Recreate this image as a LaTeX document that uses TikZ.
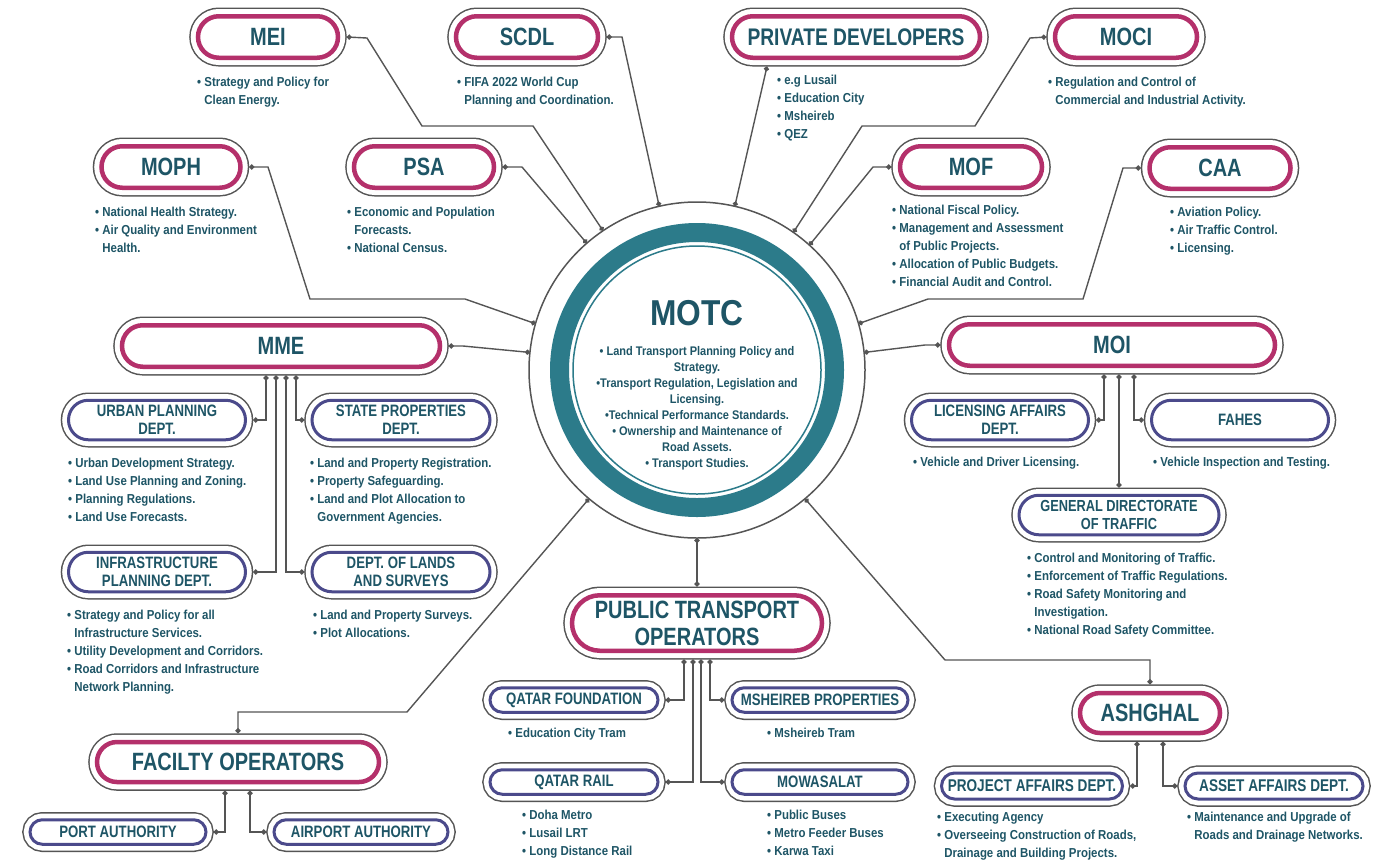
\documentclass[tikz,border=0pt]{standalone}
\usepackage{fontspec}
\setmainfont{Liberation Sans}
\newfontfamily\headfont{Liberation Sans}[FakeStretch=0.8]
\newfontfamily\notefont{Liberation Sans}[FakeStretch=0.88]
\usepackage{tikz}
\usetikzlibrary{arrows.meta, shapes.misc}

\definecolor{ink}{HTML}{1E5566}
\definecolor{ring}{HTML}{2C7B8A}
\definecolor{mag}{HTML}{B4306B}
\definecolor{pur}{HTML}{4B4A8B}
\definecolor{rim}{HTML}{555555}

\newcommand{\itm}{\textbullet\ }
\newcommand{\nxt}{\phantom{\textbullet\ }}

\begin{document}
\begin{tikzpicture}[x=1pt, y=-1pt,
    box/.style={rounded rectangle, fill=white, text=ink, align=center, inner ysep=0pt},
    org/.style={box, draw=mag, line width=4.5pt, outer sep=8.75pt, inner xsep=-14pt,
        minimum height=41.5pt, font=\headfont\bfseries\fontsize{25}{27}\selectfont,
        preaction={draw=rim, line width=17.5pt}, preaction={draw=white, line width=14.5pt}},
    dept/.style={box, draw=pur, line width=3pt, outer sep=7.75pt, inner xsep=-14pt,
        minimum height=24.5pt, font=\headfont\bfseries\fontsize{16.5}{18}\selectfont,
        preaction={draw=rim, line width=15.5pt}, preaction={draw=white, line width=12.5pt}},
    note/.style={anchor=north west, align=left, inner sep=0pt, text=ink,
        font=\notefont\bfseries\fontsize{13}{18}\selectfont},
    wire/.style={draw=rim, line width=1.4pt, {Circle[length=5pt]}-{Circle[length=5pt]}}]

    \fill[white] (0,0) rectangle (1380,860);
    \useasboundingbox (0,0) rectangle (1380,860);

    % MOTC hub
    \node[circle, draw=rim, line width=1.5pt, minimum size=336pt, inner sep=0pt, outer sep=0pt] (motc) at (697,370) {};
    \draw[ring, line width=19pt] (motc.center) circle (137.5pt);
    \draw[ring, line width=1.5pt] (motc.center) circle (124pt);
    \node[text=ink, font=\notefont\bfseries\fontsize{36}{36}\selectfont] (motcT) at (697,313) {MOTC};
    \node[text=ink, align=center, font=\notefont\bfseries\fontsize{12.5}{16}\selectfont] (motcL) at (697,408)
        {\textbullet\ Land Transport Planning Policy and\\Strategy.\\\textbullet Transport Regulation, Legislation and\\Licensing.\\
         \textbullet Technical Performance Standards.\\\textbullet\ Ownership and Maintenance of\\Road Assets.\\\textbullet\ Transport Studies.};

    % Top ring of bodies
    \node[org, minimum width=112pt] (mei) at (268,37) {MEI};
    \node[org, minimum width=114pt] (scdl) at (527,37) {SCDL};
    \node[org, minimum width=220pt, font=\headfont\bfseries\fontsize{24}{27}\selectfont] (priv) at (856,37) {PRIVATE DEVELOPERS};
    \node[org, minimum width=114pt] (moci) at (1126,37) {MOCI};
    \node[org, minimum width=111pt] (moph) at (171,167) {MOPH};
    \node[org, minimum width=112pt] (psa) at (424,167) {PSA};
    \node[org, minimum width=114pt] (mof) at (971,167) {MOF};
    \node[org, minimum width=113pt] (caa) at (1220,168) {CAA};

    \node[note] (meiT) at (197,77) {\itm Strategy and Policy for\\\nxt Clean Energy.};
    \node[note] (scdlT) at (457,77) {\itm FIFA 2022 World Cup\\\nxt Planning and Coordination.};
    \node[note] (privT) at (777,75) {\itm e.g Lusail\\\itm Education City\\\itm Msheireb\\\itm QEZ};
    \node[note] (mociT) at (1048,77) {\itm Regulation and Control of\\\nxt Commercial and Industrial Activity.};
    \node[note] (mophT) at (95,207) {\itm National Health Strategy.\\\itm Air Quality and Environment\\\nxt Health.};
    \node[note] (psaT) at (347,207) {\itm Economic and Population\\\nxt Forecasts.\\\itm National Census.};
    \node[note] (mofT) at (892,205) {\itm National Fiscal Policy.\\\itm Management and Assessment\\\nxt of Public Projects.\\\itm Allocation of Public Budgets.\\\itm Financial Audit and Control.};
    \node[note] (caaT) at (1170,207) {\itm Aviation Policy.\\\itm Air Traffic Control.\\\itm Licensing.};

    % MME and its departments
    \node[org, minimum width=290pt] (mme) at (281,346) {MME};
    \node[dept, minimum width=149pt, minimum height=39.5pt] (urban) at (157,420) {URBAN PLANNING\\DEPT.};
    \node[dept, minimum width=150pt, minimum height=39.5pt] (state) at (401,420) {STATE PROPERTIES\\DEPT.};
    \node[dept, minimum width=149pt, minimum height=39.5pt] (infra) at (157,572) {INFRASTRUCTURE\\PLANNING DEPT.};
    \node[dept, minimum width=150pt, minimum height=39.5pt] (lands) at (401,572) {DEPT. OF LANDS\\AND SURVEYS};
    \node[note] (urbanT) at (68,458) {\itm Urban Development Strategy.\\\itm Land Use Planning and Zoning.\\\itm Planning Regulations.\\\itm Land Use Forecasts.};
    \node[note] (stateT) at (310,458) {\itm Land and Property Registration.\\\itm Property Safeguarding.\\\itm Land and Plot Allocation to\\\nxt Government Agencies.};
    \node[note] (infraT) at (67,610) {\itm Strategy and Policy for all\\\nxt Infrastructure Services.\\\itm Utility Development and Corridors.\\\itm Road Corridors and Infrastructure\\\nxt Network Planning.};
    \node[note] (landsT) at (313,610) {\itm Land and Property Surveys.\\\itm Plot Allocations.};

    % MOI and its departments
    \node[org, minimum width=298pt] (moi) at (1112,345) {MOI};
    \node[dept, minimum width=149pt, minimum height=39.5pt] (lic) at (1000,420) {LICENSING AFFAIRS\\DEPT.};
    \node[dept, minimum width=149pt, minimum height=39.5pt] (fahes) at (1240,420) {FAHES};
    \node[dept, minimum width=172pt, minimum height=39.5pt, font=\headfont\bfseries\fontsize{16}{18}\selectfont] (gen) at (1119,515) {GENERAL DIRECTORATE\\OF TRAFFIC};
    \node[note] (licT) at (913,457) {\itm Vehicle and Driver Licensing.};
    \node[note] (fahesT) at (1153,457) {\itm Vehicle Inspection and Testing.};
    \node[note] (genT) at (1027,553) {\itm Control and Monitoring of Traffic.\\\itm Enforcement of Traffic Regulations.\\\itm Road Safety Monitoring and\\\nxt Investigation.\\\itm National Road Safety Committee.};

    % Public transport operators
    \node[org, minimum width=222pt, minimum height=55.5pt] (pto) at (697,623) {PUBLIC TRANSPORT\\OPERATORS};
    \node[dept, minimum width=140pt] (qf) at (574,700) {QATAR FOUNDATION};
    \node[dept, minimum width=148pt] (msh) at (820,700) {MSHEIREB PROPERTIES};
    \node[dept, minimum width=140pt] (qr) at (574,782) {QATAR RAIL};
    \node[dept, minimum width=148pt] (mow) at (820,782) {MOWASALAT};
    \node[note] (qfT) at (508,728) {\itm Education City Tram};
    \node[note] (mshT) at (767,728) {\itm Msheireb Tram};
    \node[note] (qrT) at (522,810) {\itm Doha Metro\\\itm Lusail LRT\\\itm Long Distance Rail};
    \node[note] (mowT) at (767,810) {\itm Public Buses\\\itm Metro Feeder Buses\\\itm Karwa Taxi};

    % Facility operators
    \node[org, minimum width=254pt, minimum height=40pt] (fac) at (238,762) {FACILTY OPERATORS};
    \node[dept, minimum width=148pt] (port) at (118,832) {PORT AUTHORITY};
    \node[dept, minimum width=146pt] (air) at (361,832) {AIRPORT AUTHORITY};

    % Ashghal
    \node[org, minimum width=112pt, minimum height=40pt] (ash) at (1150,713) {ASHGHAL};
    \node[dept, minimum width=153pt, minimum height=26pt, font=\headfont\bfseries\fontsize{17}{18}\selectfont] (proj) at (1032,786) {PROJECT AFFAIRS DEPT.};
    \node[dept, minimum width=150pt, minimum height=26pt, font=\headfont\bfseries\fontsize{17}{18}\selectfont] (asset) at (1274,786) {ASSET AFFAIRS DEPT.};
    \node[note] (projT) at (937,812) {\itm Executing Agency\\\itm Overseeing Construction of Roads,\\\nxt Drainage and Building Projects.};
    \node[note] (assetT) at (1187,812) {\itm Maintenance and Upgrade of\\\nxt Roads and Drainage Networks.};

    % Links to the hub
    \draw[wire] (mei.east) -- (367,38) -- (422,126) -- (533,126) -- (motc.124);
    \draw[wire] (scdl.east) -- (622,37) -- (motc.103);
    \draw[wire] ([xshift=-89pt]priv.south) -- (motc.77);
    \draw[wire] (moci.west) -- (1030,38) -- (975,126) -- (862,126) -- (motc.55);
    \draw[wire] (psa.east) -- (522,167) -- (motc.131);
    \draw[wire] (mof.west) -- (873,167) -- (motc.48);
    \draw[wire] (moph.east) -- (268,167) -- (310,299) -- (465,299) -- (motc.164);
    \draw[wire] (mme.east) -- (463,346) -- (motc.174);
    \draw[wire] (caa.west) -- (1123,168) -- (1083,299) -- (928,299) -- (motc.16);
    \draw[wire] (moi.west) -- (925,345) -- (motc.6);
    \draw[wire] (motc.south) -- (pto.north);
    \draw[wire] (motc.230) -- (407,712) -| (fac.north);
    \draw[wire] (motc.310) -- (945,660) -| (ash.north);

    % Department links
    \draw[wire] ([xshift=-15pt]mme.south) |- (urban.east);
    \draw[wire] ([xshift=-5pt]mme.south) |- (infra.east);
    \draw[wire] ([xshift=5pt]mme.south) |- (lands.west);
    \draw[wire] ([xshift=15pt]mme.south) |- (state.west);
    \draw[wire] ([xshift=-8pt]moi.south) |- (lic.east);
    \draw[wire] ([xshift=7pt]moi.south) -- (gen.north);
    \draw[wire] ([xshift=22pt]moi.south) |- (fahes.west);
    \draw[wire] ([xshift=-13pt]pto.south) |- (qf.east);
    \draw[wire] ([xshift=-4pt]pto.south) |- (qr.east);
    \draw[wire] ([xshift=4pt]pto.south) |- (mow.west);
    \draw[wire] ([xshift=13pt]pto.south) |- (msh.west);
    \draw[wire] ([xshift=-13pt]fac.south) |- (port.east);
    \draw[wire] ([xshift=12pt]fac.south) |- (air.west);
    \draw[wire] ([xshift=-13pt]ash.south) |- (proj.east);
    \draw[wire] ([xshift=13pt]ash.south) |- (asset.west);
\end{tikzpicture}
\end{document}
